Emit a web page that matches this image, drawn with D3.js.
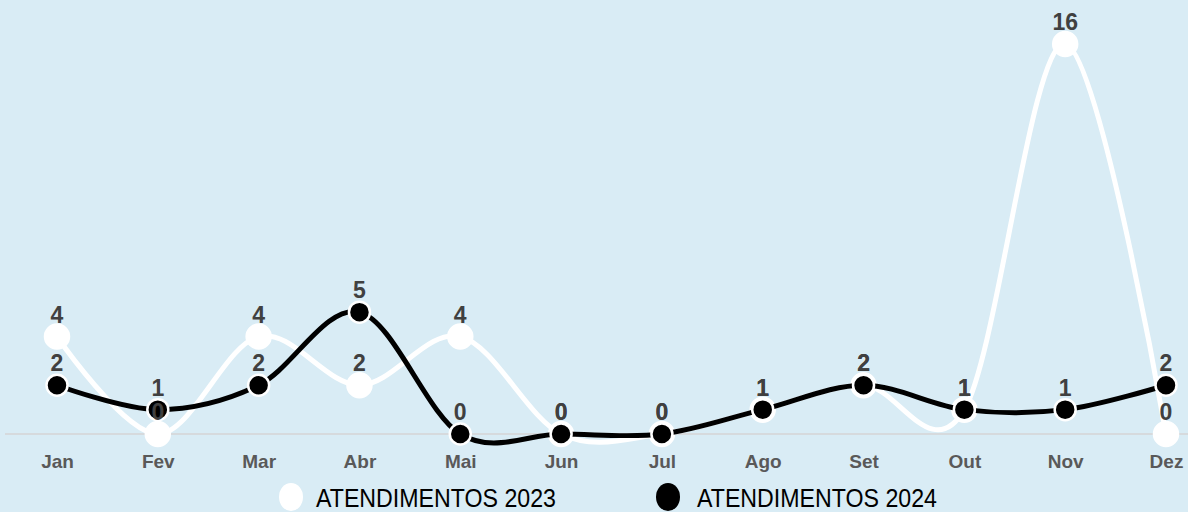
<!DOCTYPE html>
<html>
<head>
<meta charset="utf-8">
<script src="https://cdn.jsdelivr.net/npm/d3@7"></script>
<style>
  body { margin: 0; background: #d9ecf5; }
  svg { display: block; }
</style>
</head>
<body>
<div id="chart"></div>
<script>
var months = ['Jan','Fev','Mar','Abr','Mai','Jun','Jul','Ago','Set','Out','Nov','Dez']
var atend2023 = [4, 0, 4, 2, 4, 0, 0, 1, 2, 1, 16, 0]
var atend2024 = [2, 1, 2, 5, 0, 0, 0, 1, 2, 1, 1, 2]
var seriesNames = ['ATENDIMENTOS 2023', 'ATENDIMENTOS 2024']

var width = 1188,
    height = 512

var svg = d3.select('#chart').append('svg')
    .attr('width', width).attr('height', height)
    .style('background', '#d9ecf5')

var x = d3.scalePoint()
    .domain(months)
    .range([57, 1166])

var y = d3.scaleLinear()
    .domain([0, 16])
    .range([434, 44])

// baseline
svg.append('line')
    .attr('x1', 5).attr('x2', width)
    .attr('y1', y(0)).attr('y2', y(0))
    .style('stroke', '#d4d4d4')
    .style('stroke-width', 1.5)

// month labels
var xAxis = d3.axisBottom(x).tickSize(0).tickPadding(0)
var xg = svg.append('g')
    .attr('transform', 'translate(0,' + 454 + ')')
    .call(xAxis)
xg.select('.domain').remove()
xg.selectAll('text')
    .attr('dy', '0.71em')
    .style('font-family', '"Liberation Sans", sans-serif')
    .style('font-weight', 'bold')
    .style('font-size', '19px')
    .style('fill', '#595959')

var line = d3.line()
    .x(function(d, i){ return x(months[i]) })
    .y(function(d){ return y(d) })
    .curve(d3.curveCatmullRom.alpha(0))

var series = [
  {name: seriesNames[0], values: atend2023, color: '#ffffff'},
  {name: seriesNames[1], values: atend2024, color: '#000000'}
]

series.forEach(function(s){
    svg.append('path')
        .datum(s.values)
        .attr('d', line)
        .style('fill', 'none')
        .style('stroke', s.color)
        .style('stroke-width', 5)
        .style('stroke-linejoin', 'round')

    svg.append('g').selectAll('circle')
        .data(s.values)
        .enter()
        .append('circle')
        .attr('cx', function(d, i){ return x(months[i]) })
        .attr('cy', function(d){ return y(d) })
        .attr('r', s.color == '#ffffff' ? 12 : 10.5)
        .style('fill', s.color)
        .style('stroke', '#ffffff')
        .style('stroke-width', 2.5)
})

// data labels
series.forEach(function(s){
    svg.append('g').selectAll('text')
        .data(s.values)
        .enter()
        .append('text')
        .attr('x', function(d, i){ return x(months[i]) })
        .attr('y', function(d){ return y(d) - 14 })
        .attr('text-anchor', 'middle')
        .style('font-family', '"Liberation Sans", sans-serif')
        .style('font-weight', 'bold')
        .style('font-size', '23px')
        .style('fill', '#404040')
        .text(function(d){ return d })
})

// legend
var legend = svg.append('g').selectAll('g')
    .data(series)
    .enter()
    .append('g')
    .attr('transform', function(d, i){ return 'translate(' + (291 + i * 377) + ',497)' })
legend.append('ellipse')
    .attr('rx', 12).attr('ry', 14)
    .style('fill', function(d){ return d.color })
legend.append('text')
    .attr('x', function(d, i){ return 25 + i * 4 })
    .attr('y', 10)
    .attr('textLength', 240)
    .attr('lengthAdjust', 'spacingAndGlyphs')
    .style('font-family', '"Liberation Sans", sans-serif')
    .style('font-size', '26px')
    .style('fill', '#000')
    .text(function(d){ return d.name })
</script>
</body>
</html>
